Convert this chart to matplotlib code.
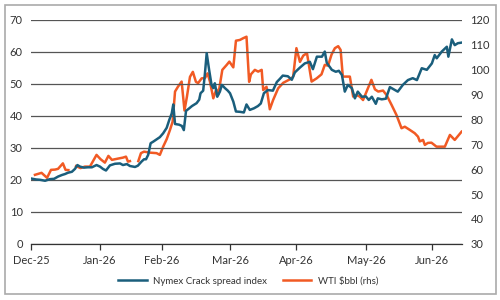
import numpy as np
import matplotlib
matplotlib.use("Agg")
import matplotlib.pyplot as plt
from matplotlib.patches import Rectangle

plt.rcParams['font.family'] = ['Lato', 'DejaVu Sans']

# x = days since 1 Dec 2025
crack_days = [0, 2.3, 4.1, 6.4, 8.6, 10.5, 12.3, 14.1, 15.5, 16.8, 18.6, 20, 21.1, 22.3, 24.1, 25.9, 27.7,
              29.8, 31.4, 32.7, 34.1, 35.9, 38.2, 40.5, 41.8, 43.6, 45, 47.3, 48.6, 50.3, 51.4, 52.3, 53.3,
              54.4, 55.6, 57.1, 58.6, 60.1, 61.7, 62.9, 64, 64.7, 65.5, 67.3, 68.6, 69.5, 70.5, 71.8, 73.2,
              75.3, 76.5, 77.1, 78.3, 79.1, 79.9, 81, 82.1, 82.9, 83.6, 84.7, 85.9, 86.8, 88.2, 89.5, 90.5,
              92, 93.2, 95, 96.8, 98, 99.5, 101.4, 103.2, 104.5, 105.9, 107.7, 110, 111.8, 113.2, 114.5,
              116.8, 118.6, 120, 122.3, 124.5, 126.8, 128.2, 130, 132.3, 133.6, 134.5, 136.8, 138.6, 140,
              141.4, 142.7, 144.1, 145.9, 147.3, 148.6, 150.5, 152.3, 153.6, 155, 156.8, 157.7, 159.5,
              161.4, 163.2, 165.5, 166.8, 169.1, 171.4, 173.6, 175.5, 177.7, 180, 182.3, 183.6, 184.5,
              186.8, 189.1, 189.8, 191.4, 192.7, 194.1, 195.9]
crack_vals = [20.4, 20.1, 20.0, 19.7, 20.2, 20.3, 21.0, 21.5, 21.8, 22.2, 22.5, 23.4, 24.6, 24.1, 23.8, 23.9,
              23.9, 24.6, 24.1, 23.4, 22.9, 24.5, 25.0, 25.1, 24.6, 24.9, 24.3, 24.0, 24.4, 25.7, 26.4, 26.4,
              27.8, 31.4, 31.9, 32.6, 33.3, 34.5, 36.2, 38.7, 40.7, 43.5, 37.4, 37.2, 36.8, 35.5, 41.5, 42.2,
              43.0, 43.9, 45.0, 47.0, 47.8, 53.2, 59.5, 54.3, 49.6, 48.6, 50.1, 45.9, 47.5, 49.6, 48.6, 47.8,
              47.0, 44.4, 41.3, 41.2, 41.0, 43.5, 41.8, 42.3, 43.0, 43.8, 47.0, 48.0, 47.8, 50.5, 51.5, 52.5,
              52.3, 51.2, 53.5, 55.0, 56.3, 56.8, 54.5, 58.4, 58.4, 60.0, 56.5, 54.3, 53.7, 54.0, 52.7, 47.5,
              49.6, 48.6, 45.4, 47.5, 45.9, 46.0, 44.9, 45.9, 43.7, 45.4, 45.1, 45.3, 48.9, 48.0, 47.5, 49.6,
              51.1, 51.7, 51.1, 54.8, 54.3, 56.3, 58.9, 57.9, 60.0, 61.5, 58.4, 63.8, 62.0, 62.6, 62.8]

wti_days = [1.8, 4.8, 7.3, 9.1, 10.9, 12.3, 14.5, 15.7, 17, 18.6, 20.5, 22.5, 24.5, 26.8, 29.8, 31.6, 33.6,
            35.2, 36.8, 39.5, 41.8, 43.2, 44.1, 45, 46.8, 48.8, 50, 51.4, 54.1, 57.1, 58.6, 60.1, 61.7, 63.2,
            64.4, 65.5, 66.8, 68.5, 69.8, 70.9, 72.3, 73.6, 75, 76, 77.6, 79.1, 80.3, 81.4, 82.9, 84.3, 85.2,
            87, 89, 90.2, 92, 93.2, 95, 96.5, 98, 99.2, 100, 101.8, 103.3, 104.9, 105.6, 107.1, 108.6, 110.1,
            112.4, 114.7, 117.7, 119.2, 120.7, 122.3, 123.8, 125.5, 127.6, 129.9, 132.1, 133.6, 135.1, 136.7,
            138.2, 139.7, 140.8, 141.8, 145, 146.5, 148, 149.5, 151, 152.6, 154.8, 156.4, 157.9, 160.1, 161.7,
            164, 166.2, 168.5, 170, 172.3, 174.5, 176, 176.8, 178.3, 179.1, 180.5, 182.1, 184.4, 188.2, 190.5,
            192.7, 195.8]
wti_vals = [57.7, 58.5, 56.5, 59.7, 59.8, 60.1, 62.3, 59.7, 59.6, np.nan, 61.2, 60.4, 61.0, 61.0, 65.7, 64.0,
            62.6, 65.3, 63.7, 64.2, 64.6, 65.0, 63.0, 63.2, np.nan, 63.2, 66.4, 67.0, 66.6, 66.4, 65.7, 69.0,
            72.0, 75.7, 79.0, 91.1, 93.0, 95.1, 83.5, 89.0, 97.0, 99.0, 95.0, 94.5, 96.4, 96.5, 98.4, 95.0,
            88.4, 92.0, 90.0, 99.8, 101.8, 103.1, 100.8, 111.5, 111.8, 112.5, 113.1, 95.0, 98.0, 99.8, 99.1,
            99.8, 91.7, 93.0, 84.0, 87.7, 92.4, 94.6, 96.0, 97.0, 108.5, 103.0, 105.5, 106.5, 95.1, 96.4, 98.0,
            101.8, 101.5, 106.0, 108.5, 109.3, 107.8, 97.1, 97.1, 89.1, 89.7, 89.1, 87.7, 91.1, 95.8, 92.0,
            91.1, 91.5, 89.7, 85.7, 81.7, 76.4, 77.0, 75.7, 74.4, 73.0, 71.1, 71.7, 69.7, 70.5, 70.6, 69.0,
            69.0, 73.7, 71.7, 75.0]

tick_days = [0, 31.4, 59.6, 90.5, 120.5, 152.3, 182.4]
tick_labels = ['Dec-25', 'Jan-26', 'Feb-26', 'Mar-26', 'Apr-26', 'May-26', 'Jun-26']

BLUE = '#1a5e7c'
ORANGE = '#f15a24'
TXT = '#333333'

fig = plt.figure(figsize=(5, 3), dpi=100)
fig.patches.append(Rectangle((0.009, 0.02), 0.982, 0.965, transform=fig.transFigure,
                             fill=False, edgecolor='#aaaaaa', linewidth=1.2))

ax = fig.add_axes([0.062, 0.187, 0.862, 0.748])
ax2 = ax.twinx()

ax.set_ylim(0, 70)
ax.set_yticks(np.arange(0, 71, 10))
ax.set_xlim(0, 196)
ax.set_xticks(tick_days)
ax.set_xticklabels(tick_labels)
ax.grid(axis='y', color='#555555', linewidth=0.9)
ax.set_axisbelow(True)
for s in ['left', 'right', 'top']:
    ax.spines[s].set_visible(False)
ax.spines['bottom'].set_color('#333333')
ax.spines['bottom'].set_linewidth(0.9)
ax.tick_params(axis='y', length=0, pad=6, labelsize=8, labelcolor=TXT)
ax.tick_params(axis='x', length=4, width=0.9, color='#333333', pad=4, labelsize=8, labelcolor=TXT)

ax2.set_ylim(30, 120)
ax2.set_yticks(np.arange(30, 121, 10))
for s in ['left', 'right', 'top', 'bottom']:
    ax2.spines[s].set_visible(False)
ax2.tick_params(axis='y', length=0, pad=6, labelsize=8, labelcolor=TXT)

l2, = ax2.plot(wti_days, wti_vals, color=ORANGE, linewidth=1.8, label='WTI \\$bbl (rhs)', zorder=2)
ax.set_zorder(ax2.get_zorder() + 1)
ax.patch.set_visible(False)
l1, = ax.plot(crack_days, crack_vals, color=BLUE, linewidth=1.8, label='Nymex Crack spread index', zorder=3)

fig.legend([l1, l2], ['Nymex Crack spread index', 'WTI \\$bbl (rhs)'], loc='center',
           bbox_to_anchor=(0.497, 0.063), ncol=2, frameon=False, fontsize=7,
           handlelength=2.9, columnspacing=1.6, handletextpad=0.7, labelcolor=TXT)

fig.savefig('out.png', dpi=100)
